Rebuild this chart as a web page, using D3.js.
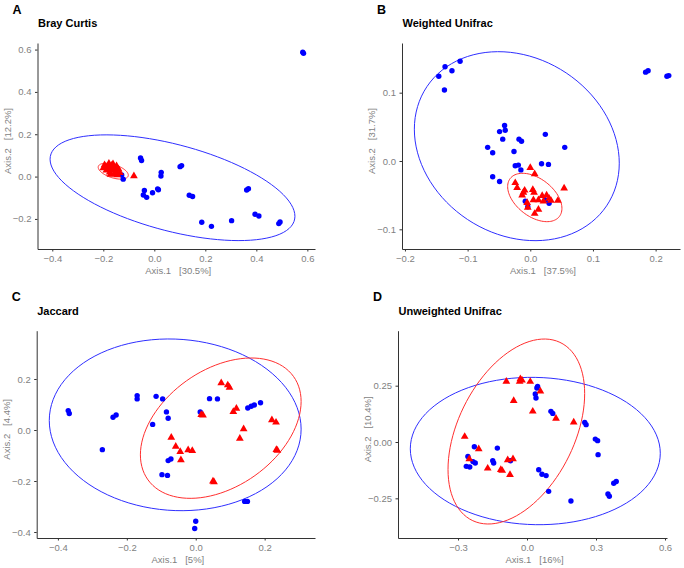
<!DOCTYPE html>
<html>
<head>
<meta charset="utf-8">
<script src="https://cdn.jsdelivr.net/npm/d3@7"></script>
<style>
  body { margin: 0; background: #fff; }
  svg { display: block; font-family: "Liberation Sans", Arial, Helvetica, sans-serif; }
</style>
</head>
<body>
<div id="vis"></div>
<script>
// ---- data: [axis1, axis2] per sample; ellipse = [cx, cy, sdx, sdy, corr]
const brayBlue = [[0.582,0.587],[0.585,0.582],[-0.054,0.088],[-0.050,0.076],[-0.128,0.008],[-0.122,-0.012],
  [-0.039,-0.066],[-0.043,-0.087],[-0.030,-0.098],[-0.007,-0.076],[0.013,-0.058],[0.016,-0.062],[0.027,0.020],
  [0.026,0.003],[0.101,0.047],[0.107,0.052],[0.137,-0.088],[0.150,-0.094],[0.186,-0.216],[0.224,-0.235],
  [0.303,-0.208],[0.362,-0.063],[0.369,-0.057],[0.395,-0.178],[0.410,-0.186],[0.488,-0.222],[0.493,-0.214]]
const brayRed = [[-0.200,0.040],[-0.195,0.055],[-0.188,0.030],[-0.182,0.048],[-0.178,0.062],[-0.175,0.020],
  [-0.170,0.040],[-0.168,0.052],[-0.165,0.030],[-0.162,0.060],[-0.158,0.012],[-0.155,0.040],[-0.150,0.025],
  [-0.148,0.050],[-0.145,0.008],[-0.140,0.035],[-0.135,0.018],[-0.190,0.045],[-0.172,0.010],[-0.160,0.045],
  [-0.080,0.003]]
const brayEllBlue = [0.0713, -0.0526, 0.480, 0.2497, -0.54]
const brayEllRed = [-0.161, 0.0255, 0.059, 0.0375, -0.5]

const wuniBlue = [[-0.146,0.124],[-0.136,0.138],[-0.137,0.104],[-0.125,0.132],[-0.112,0.146],[0.184,0.130],
  [0.188,0.132],[0.218,0.124],[0.221,0.125],[-0.041,0.052],[-0.049,0.043],[-0.040,0.045],[-0.044,0.032],
  [-0.068,0.020],[-0.060,0.012],[-0.018,0.032],[-0.014,0.029],[0.024,0.039],[0.055,0.020],[-0.026,0.014],
  [-0.024,-0.007],[-0.019,-0.006],[-0.015,-0.013],[0.018,-0.004],[0.029,-0.005],[-0.060,-0.023],
  [-0.049,-0.030],[-0.008,-0.059],[-0.004,-0.067],[0.024,-0.057],[0.030,-0.062]]
const wuniRed = [[0.000,-0.010],[0.007,-0.019],[-0.024,-0.032],[-0.021,-0.039],[-0.011,-0.046],[-0.009,-0.043],
  [0.004,-0.042],[0.006,-0.046],[0.019,-0.051],[0.026,-0.050],[0.030,-0.055],[0.013,-0.057],[0.005,-0.057],
  [-0.005,-0.061],[-0.004,-0.068],[0.013,-0.071],[0.007,-0.077],[0.044,-0.058],[0.054,-0.040],[0.033,-0.058],
  [0.021,-0.059],[-0.013,-0.050]]
const wuniEllBlue = [-0.0215, 0.0217, 0.1635, 0.1383, -0.18]
const wuniEllRed = [0.0072, -0.0534, 0.0433, 0.0354, -0.45]

const jacBlue = [[-0.370,0.076],[-0.367,0.065],[-0.271,-0.077],[-0.240,0.050],[-0.231,0.059],[-0.170,0.135],
  [-0.170,0.122],[-0.115,0.132],[-0.096,0.122],[-0.085,0.071],[-0.080,0.046],[-0.125,0.022],[-0.098,-0.175],
  [-0.082,-0.178],[-0.080,-0.120],[-0.072,-0.114],[0.000,-0.358],[-0.003,-0.386],[0.013,0.071],[0.040,0.123],
  [0.063,0.122],[0.151,0.086],[0.161,0.093],[0.170,0.098],[0.188,0.107],[0.142,-0.280],[0.150,-0.280]]
const jacRed = [[0.074,0.184],[0.093,0.176],[0.098,0.167],[0.016,0.060],[0.021,0.058],[0.109,0.072],
  [0.118,0.084],[0.139,0.004],[0.128,-0.033],[0.221,0.039],[0.233,0.030],[0.234,-0.077],[0.237,-0.080],
  [-0.071,-0.029],[-0.058,-0.065],[-0.045,-0.085],[-0.043,-0.118],[-0.022,-0.078],[-0.010,-0.081],
  [0.050,-0.201],[0.053,-0.204]]
const jacEllBlue = [-0.0596, 0.0203, 0.3654, 0.3367, -0.05]
const jacEllRed = [0.0726, 0.0072, 0.2332, 0.2752, 0.38]

const uwuBlue = [[0.046,0.247],[0.043,0.240],[0.036,0.213],[0.039,0.195],[0.104,0.136],[0.112,0.127],
  [0.251,0.087],[0.257,0.077],[0.297,0.013],[0.307,0.006],[0.309,-0.056],[0.051,-0.123],[0.065,-0.143],
  [0.083,-0.149],[0.094,-0.219],[0.191,-0.262],[0.352,-0.231],[0.358,-0.241],[0.377,-0.183],[0.388,-0.175],
  [-0.257,-0.064],[-0.229,-0.021],[-0.225,-0.093],[-0.235,-0.087],[-0.264,-0.108],[-0.249,-0.111],
  [-0.129,-0.027],[-0.149,-0.083],[-0.145,-0.093],[-0.072,-0.083]]
const uwuRed = [[-0.029,0.280],[-0.032,0.268],[-0.022,0.274],[-0.090,0.269],[0.014,0.268],[0.058,0.225],
  [-0.058,0.183],[0.025,0.136],[0.126,0.104],[0.203,0.088],[-0.271,0.024],[-0.210,-0.031],[-0.251,-0.075],
  [-0.171,-0.117],[-0.114,-0.123],[-0.108,-0.127],[-0.074,-0.145],[-0.084,-0.080],[-0.061,-0.075]]
const uwuEllBlue = [0.036, -0.040, 0.5435, 0.327, -0.03]
const uwuEllRed = [-0.0464, 0.0466, 0.2971, 0.4105, 0.41]

const panels = [
  { letter: "A", title: "Bray Curtis", xlab: "Axis.1   [30.5%]", ylab: "Axis.2   [12.2%]",
    box: [37.5, 43, 315, 249], xDom: [-0.458, 0.630], yDom: [-0.342, 0.631],
    xTicks: [-0.4, -0.2, 0, 0.2, 0.4, 0.6], yTicks: [-0.2, 0, 0.2, 0.4, 0.6], yFmt: ".1f",
    blue: brayBlue, red: brayRed, ellBlue: brayEllBlue, ellRed: brayEllRed },
  { letter: "B", title: "Weighted Unifrac", xlab: "Axis.1   [37.5%]", ylab: "Axis.2   [31.7%]",
    box: [402, 43, 680, 249], xDom: [-0.2047, 0.2389], yDom: [-0.1288, 0.1727],
    xTicks: [-0.2, -0.1, 0, 0.1, 0.2], yTicks: [-0.1, 0, 0.1], yFmt: ".1f",
    blue: wuniBlue, red: wuniRed, ellBlue: wuniEllBlue, ellRed: wuniEllRed },
  { letter: "C", title: "Jaccard", xlab: "Axis.1   [5%]", ylab: "Axis.2   [4.4%]",
    box: [36.7, 330.7, 315, 538], xDom: [-0.4615, 0.3461], yDom: [-0.4235, 0.3894],
    xTicks: [-0.4, -0.2, 0, 0.2], yTicks: [-0.4, -0.2, 0, 0.2], yFmt: ".1f",
    blue: jacBlue, red: jacRed, ellBlue: jacEllBlue, ellRed: jacEllRed },
  { letter: "D", title: "Unweighted Unifrac", xlab: "Axis.1   [16%]", ylab: "Axis.2   [10.4%]",
    box: [398, 330.7, 667, 538], xDom: [-0.561, 0.6087], yDom: [-0.426, 0.494],
    xTicks: [-0.3, 0, 0.3, 0.6], yTicks: [-0.25, 0, 0.25], yFmt: ".2f",
    blue: uwuBlue, red: uwuRed, ellBlue: uwuEllBlue, ellRed: uwuEllRed }
]

const W = 684, H = 568
const axisCol = "#333333", textCol = "#7f7f7f"

var svg = d3.select("#vis").append("svg")
  .attr("width", W).attr("height", H)

// ellipse outline from centre, sd's and correlation
function ellipsePts(e) {
  const [cx, cy, sx, sy, r] = e
  return d3.range(0, 101).map(i => {
    const t = i / 100 * 2 * Math.PI
    return [cx + sx * Math.cos(t), cy + sy * (r * Math.cos(t) + Math.sqrt(1 - r * r) * Math.sin(t))]
  })
}

panels.forEach(p => {
  const [x0, y0, x1, y1] = p.box
  const x = d3.scaleLinear().domain(p.xDom).range([x0, x1])
  const y = d3.scaleLinear().domain(p.yDom).range([y1, y0])
  const g = svg.append("g")

  // panel letter + title
  g.append("text").attr("x", x0 - 25).attr("y", y0 - 29.5)
    .attr("font-size", "12.5px").attr("font-weight", "bold").text(p.letter)
  g.append("text").attr("x", x0 + 0.5).attr("y", y0 - 15.8)
    .attr("font-size", "11px").attr("font-weight", "bold").text(p.title)

  // ellipses
  const line = d3.line().x(d => x(d[0])).y(d => y(d[1])).curve(d3.curveLinearClosed)
  g.append("path").attr("d", line(ellipsePts(p.ellBlue)))
    .attr("fill", "none").attr("stroke", "#2f2fff").attr("stroke-width", 1)
  g.append("path").attr("d", line(ellipsePts(p.ellRed)))
    .attr("fill", "none").attr("stroke", "#ff2f2f").attr("stroke-width", 1)

  // points
  g.selectAll(".pt").data(p.blue).join("circle")
    .attr("cx", d => x(d[0])).attr("cy", d => y(d[1])).attr("r", 2.7).attr("fill", "#0000ff")
  const tri = d3.symbol(d3.symbolTriangle, 26)
  g.selectAll(".tri").data(p.red).join("path")
    .attr("d", tri).attr("transform", d => `translate(${x(d[0])},${y(d[1])})`).attr("fill", "#ff0000")

  // axes
  const xa = g.append("g").attr("transform", `translate(0,${y1})`)
    .call(d3.axisBottom(x).tickValues(p.xTicks).tickFormat(d3.format(".1f")).tickSize(2.5).tickSizeOuter(0).tickPadding(3.5))
  const ya = g.append("g").attr("transform", `translate(${x0},0)`)
    .call(d3.axisLeft(y).tickValues(p.yTicks).tickFormat(d3.format(p.yFmt)).tickSize(2.5).tickSizeOuter(0).tickPadding(3.5))
  ;[xa, ya].forEach(a => {
    a.select(".domain").attr("stroke", axisCol).attr("stroke-width", 1)
    a.selectAll(".tick line").attr("stroke", axisCol)
    a.selectAll("text").attr("fill", textCol).attr("font-size", "9.5px")
      .attr("font-family", "Liberation Sans, Arial, sans-serif")
  })

  // axis titles
  g.append("text").attr("x", (x0 + x1) / 2 + 2).attr("y", y1 + 24.5)
    .attr("text-anchor", "middle").attr("fill", textCol).attr("font-size", "9.5px")
    .style("white-space", "pre").text(p.xlab)
  g.append("text")
    .attr("transform", `translate(${x0 - 27},${(y0 + y1) / 2 - 5}) rotate(-90)`)
    .attr("text-anchor", "middle").attr("fill", textCol).attr("font-size", "9.5px")
    .style("white-space", "pre").text(p.ylab)
})
</script>
</body>
</html>
